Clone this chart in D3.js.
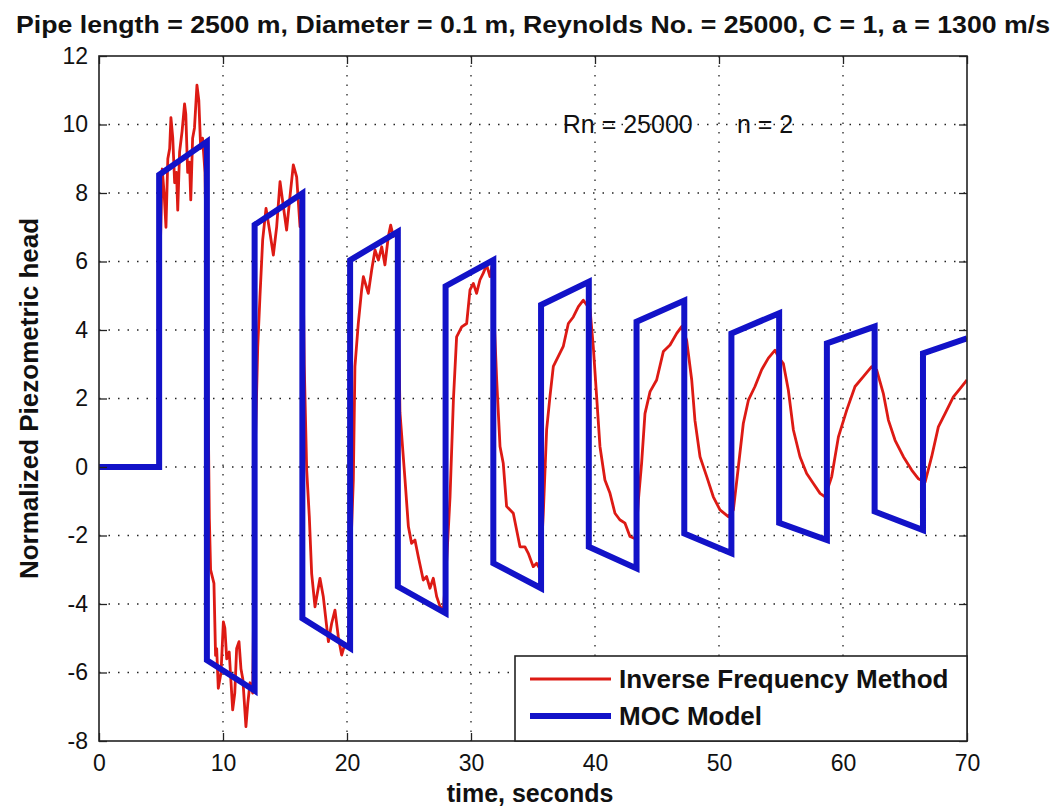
<!DOCTYPE html>
<html>
<head>
<meta charset="utf-8">
<script src="https://cdn.jsdelivr.net/npm/d3@7"></script>
<style>
  body { margin: 0; background: #fff; }
  text { font-family: "Liberation Sans", Arial, sans-serif; fill: #111; }
</style>
</head>
<body>
<svg id="chart" width="1054" height="810"></svg>
<script>
const xTicks = [0, 10, 20, 30, 40, 50, 60, 70];
const yTicks = [-8, -6, -4, -2, 0, 2, 4, 6, 8, 10, 12];

// MOC model: piecewise linear segments between switch times
const mocSwitch = [0, 4.85, 8.7, 12.55, 16.4, 20.25, 24.1, 27.95, 31.8, 35.65, 39.5, 43.35, 47.2, 51.0, 54.85, 58.7, 62.55, 66.45, 70];
const mocStart = [0, 8.53, -5.64, 7.07, -4.42, 6.04, -3.49, 5.28, -2.81, 4.73, -2.33, 4.24, -1.94, 3.9, -1.63, 3.61, -1.3, 3.32];
const mocEnd = [0, 9.5, -6.53, 7.99, -5.29, 6.87, -4.27, 6.04, -3.54, 5.41, -2.96, 4.86, -2.52, 4.49, -2.13, 4.1, -1.84, 3.76];

// Inverse frequency method
const ifmTime = [
  0, 4.85, 4.95, 5.1, 5.25, 5.4, 5.55, 5.7, 5.8, 5.95, 6.1, 6.25, 6.35, 6.5, 6.7, 6.9, 7.0, 7.15, 7.3, 7.4, 7.55, 7.7, 7.9, 8.05, 8.2, 8.35, 8.55,
  8.75, 8.9, 9.0, 9.27, 9.4, 9.49, 9.62, 9.84, 10.03, 10.15, 10.3, 10.5, 10.78, 10.95, 11.1, 11.29, 11.45, 11.6, 11.85, 12.0, 12.18, 12.4,
  12.6, 12.8, 12.98, 13.2, 13.47, 13.79, 14.06, 14.33, 14.6, 14.87, 15.13, 15.4, 15.67, 15.94, 16.21, 16.4,
  16.55, 16.75, 16.96, 17.15, 17.42, 17.82, 18.09, 18.5, 18.76, 19.03, 19.3, 19.57, 19.84, 20.11,
  20.3, 20.51, 20.64, 20.91, 21.18, 21.32, 21.72, 21.99, 22.26, 22.53, 22.8, 23.06, 23.33, 23.52, 23.74, 24.0,
  24.15, 24.27, 24.68, 24.95, 25.21, 25.48, 25.75, 26.15, 26.42, 26.69, 26.96, 27.23, 27.5, 27.77,
  28.0, 28.31, 28.58, 28.84, 29.25, 29.65, 29.92, 30.19, 30.45, 30.72, 30.99, 31.26, 31.53, 31.75,
  31.85, 32.07, 32.34, 32.6, 32.87, 33.14, 33.41, 33.68, 33.95, 34.35, 34.62, 35.02, 35.29, 35.6,
  35.83, 36.1, 36.37, 36.64, 37.04, 37.44, 37.85, 38.25, 38.66, 39.06, 39.33,
  39.6, 39.86, 40.13, 40.4, 40.8, 41.21, 41.61, 42.0, 42.42, 42.82, 43.3,
  43.5, 43.76, 44.03, 44.44, 44.97, 45.51, 46.05, 46.59, 46.99,
  47.39, 47.8, 48.06, 48.47, 49.01, 49.54, 50.08, 50.75,
  51.16, 51.56, 51.96, 52.37, 52.9, 53.44, 53.98, 54.52, 54.78,
  55.19, 55.59, 56.0, 56.53, 57.07, 57.61, 58.15, 58.55,
  59.09, 59.63, 60.3, 60.97, 61.64, 62.31, 62.72,
  63.25, 63.66, 64.2, 64.87, 65.54, 66.07, 66.62,
  67.15, 67.69, 68.23, 68.9, 69.57, 70
];
const ifmHead = [
  0, 0, 6.5, 8.7, 8.0, 7.0, 9.0, 9.3, 10.2, 9.6, 8.3, 8.6, 7.5, 9.2, 9.8, 10.6, 10.3, 8.6, 8.9, 7.8, 9.6, 9.9, 11.15, 10.7, 9.3, 9.6, 8.6,
  3.5, -1.5, -3.0, -3.4, -5.5, -5.3, -6.46, -6.0, -4.52, -4.7, -5.6, -5.4, -7.09, -6.6, -5.3, -5.1, -5.9, -6.2, -7.58, -6.9, -6.3, -6.6,
  0.5, 3.5, 4.97, 6.63, 7.55, 6.83, 6.19, 7.02, 8.33, 7.6, 6.92, 7.89, 8.82, 8.47, 7.02, 7.4,
  3.0, -0.09, -1.45, -3.11, -4.08, -3.25, -3.79, -5.1, -4.57, -4.18, -4.96, -5.49, -5.15, -5.25,
  -2.5, -0.38, 2.93, 4.19, 5.17, 5.56, 5.07, 5.75, 6.34, 6.04, 6.43, 5.9, 6.73, 7.06, 6.73, 6.8,
  4.5, 1.6, -0.38, -1.74, -2.23, -2.13, -2.62, -3.3, -3.2, -3.54, -3.25, -3.78, -4.07, -4.17,
  -3.0, -0.87, 1.95, 3.8, 4.09, 4.19, 5.17, 5.36, 5.07, 5.46, 5.66, 5.9, 5.56, 5.95,
  4.5, 2.55, 0.6, 0.11, -1.15, -1.25, -1.35, -1.84, -2.33, -2.33, -2.52, -2.91, -2.81, -3.0,
  -1.35, 1.09, 2.06, 2.94, 3.23, 3.52, 4.19, 4.38, 4.68, 4.87, 4.73,
  4.6, 3.52, 2.06, 0.6, -0.38, -0.77, -1.35, -1.54, -1.64, -2.03, -2.1,
  -0.97, 0.11, 1.56, 2.2, 2.54, 3.37, 3.56, 3.9, 4.1,
  3.7, 2.54, 1.36, 0.3, -0.28, -0.87, -1.25, -1.45,
  -1.25, 0.0, 1.27, 1.95, 2.35, 2.84, 3.18, 3.41, 3.22,
  3.02, 2.25, 1.08, 0.3, -0.19, -0.48, -0.77, -0.87,
  -0.28, 0.88, 1.66, 2.35, 2.64, 2.93, 2.83,
  2.15, 1.37, 0.78, 0.3, -0.09, -0.34, -0.44,
  0.3, 1.17, 1.56, 2.05, 2.35, 2.54
];

const titleText = "Pipe length = 2500 m, Diameter = 0.1 m, Reynolds No. = 25000, C = 1, a = 1300 m/s";
const seriesNames = ["Inverse Frequency Method", "MOC Model"];
const seriesColors = ["#dd1a14", "#1212c8"];

const margin = { top: 56, right: 87, bottom: 69, left: 99 },
    width = 1054 - margin.left - margin.right,
    height = 810 - margin.top - margin.bottom;

const svg = d3.select("#chart");
const g = svg.append("g")
    .attr("transform", `translate(${margin.left},${margin.top})`);

const x = d3.scaleLinear().domain([0, 70]).range([0, width]);
const y = d3.scaleLinear().domain([-8, 12]).range([height, 0]);

// grid
g.append("g").selectAll("line")
    .data(xTicks.slice(1, -1))
    .join("line")
    .attr("x1", d => x(d)).attr("x2", d => x(d))
    .attr("y1", 0).attr("y2", height)
    .attr("stroke", "#222").attr("stroke-width", 1.3)
    .attr("stroke-dasharray", "1.5,8");
g.append("g").selectAll("line")
    .data(yTicks.slice(1, -1))
    .join("line")
    .attr("y1", d => y(d)).attr("y2", d => y(d))
    .attr("x1", 0).attr("x2", width)
    .attr("stroke", "#222").attr("stroke-width", 1.3)
    .attr("stroke-dasharray", "1.5,8");

g.append("clipPath").attr("id", "clip")
    .append("rect").attr("width", width).attr("height", height);

const line = d3.line().x(d => x(d[0])).y(d => y(d[1]));

const ifmData = ifmTime.map((t, i) => [t, ifmHead[i]]);
const mocData = [];
mocStart.forEach((v, i) => {
    mocData.push([mocSwitch[i], v]);
    mocData.push([mocSwitch[i + 1], mocEnd[i]]);
});

g.append("path")
    .attr("clip-path", "url(#clip)")
    .attr("d", line(ifmData))
    .attr("fill", "none")
    .attr("stroke", seriesColors[0])
    .attr("stroke-width", 2.8)
    .attr("stroke-linejoin", "round");

g.append("path")
    .attr("clip-path", "url(#clip)")
    .attr("d", line(mocData))
    .attr("fill", "none")
    .attr("stroke", seriesColors[1])
    .attr("stroke-width", 6)
    .attr("stroke-linejoin", "miter");

// axes with inward ticks on all sides
const tickLen = 8;
const fmt = d => String(d);
g.append("g").attr("transform", `translate(0,${height})`)
    .call(d3.axisBottom(x).tickValues(xTicks).tickFormat(fmt).tickSizeInner(-tickLen).tickSizeOuter(0).tickPadding(14))
    .call(a => a.select(".domain").remove())
    .call(a => a.selectAll("text").attr("font-size", 23).attr("font-family", "Liberation Sans, Arial").attr("fill", "#222"));
g.append("g")
    .call(d3.axisLeft(y).tickValues(yTicks).tickFormat(fmt).tickSizeInner(-tickLen).tickSizeOuter(0).tickPadding(11))
    .call(a => a.select(".domain").remove())
    .call(a => a.selectAll("text").attr("font-size", 23).attr("font-family", "Liberation Sans, Arial").attr("fill", "#222"));
g.append("g")
    .call(d3.axisTop(x).tickValues(xTicks).tickSizeInner(-tickLen).tickSizeOuter(0).tickFormat(""))
    .call(a => a.select(".domain").remove());
g.append("g").attr("transform", `translate(${width},0)`)
    .call(d3.axisRight(y).tickValues(yTicks).tickSizeInner(-tickLen).tickSizeOuter(0).tickFormat(""))
    .call(a => a.select(".domain").remove());
g.selectAll(".tick line").attr("stroke", "#222").attr("stroke-width", 1.3);

g.append("rect")
    .attr("width", width).attr("height", height)
    .attr("fill", "none").attr("stroke", "#222").attr("stroke-width", 1.6);

// annotation
g.append("text")
    .attr("x", x(37.4)).attr("y", y(10))
    .attr("dy", "0.35em")
    .attr("font-size", 25)
    .attr("fill", "#222")
    .text("Rn = 25000");
g.append("text")
    .attr("x", x(51.45)).attr("y", y(10))
    .attr("dy", "0.35em")
    .attr("font-size", 25)
    .attr("fill", "#222")
    .text("n = 2");

// legend
const legend = g.append("g").attr("transform", `translate(${width - 452},${height - 85})`);
legend.append("rect")
    .attr("width", 452).attr("height", 85)
    .attr("fill", "#fff").attr("stroke", "#222").attr("stroke-width", 1.6);
seriesNames.forEach((name, i) => {
    const ly = 23 + i * 37;
    legend.append("line")
        .attr("x1", 15).attr("x2", 96)
        .attr("y1", ly).attr("y2", ly)
        .attr("stroke", seriesColors[i])
        .attr("stroke-width", i === 0 ? 2.8 : 6);
    legend.append("text")
        .attr("x", 104).attr("y", ly)
        .attr("dy", "0.36em")
        .attr("font-size", 26)
        .attr("font-weight", "bold")
        .text(name);
});

// title and axis labels
svg.append("text")
    .attr("x", margin.left + width / 2).attr("y", 33)
    .attr("text-anchor", "middle")
    .attr("font-size", 23)
    .attr("font-weight", "bold")
    .attr("textLength", 1034)
    .attr("lengthAdjust", "spacingAndGlyphs")
    .text(titleText);

svg.append("text")
    .attr("x", 530).attr("y", 802)
    .attr("text-anchor", "middle")
    .attr("font-size", 25)
    .attr("font-weight", "bold")
    .text("time, seconds");

svg.append("text")
    .attr("transform", `translate(38,${margin.top + height / 2}) rotate(-90)`)
    .attr("text-anchor", "middle")
    .attr("font-size", 26)
    .attr("font-weight", "bold")
    .text("Normalized Piezometric head");
</script>
</body>
</html>
